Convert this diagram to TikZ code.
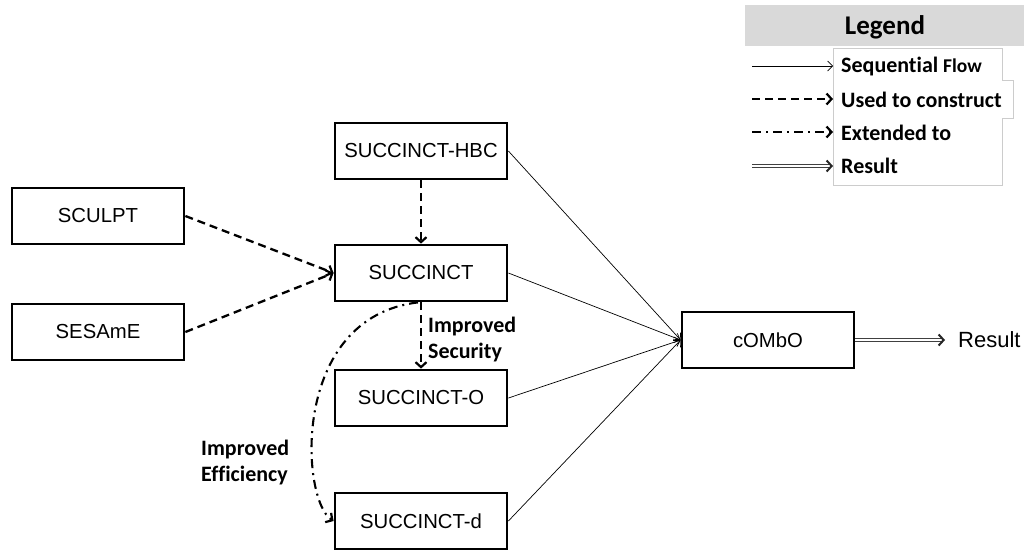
\documentclass[tikz,border=0pt]{standalone}
\usepackage{fontspec}
\setmainfont{Liberation Sans}
\newfontfamily\calib{Carlito}[Ligatures=NoCommon]
\usetikzlibrary{arrows.meta,calc}
\begin{document}
\begin{tikzpicture}[x=1pt,y=-1pt,
  box/.style={draw, line width=2.8pt, minimum width=172pt, minimum height=56pt, inner sep=0pt, font=\fontsize{20.3}{24}\selectfont},
  seq/.style={line width=0.7pt, -{Straight Barb[length=5pt,width=10pt,line width=0.7pt]}},
  used/.style={line width=2.3pt, dash pattern=on 8pt off 5pt, -{Straight Barb[length=5pt,width=11pt,line width=2.2pt]}},
  ext/.style={line width=2.1pt, dash pattern=on 9pt off 5pt on 2pt off 5pt, -{Straight Barb[length=5pt,width=11pt,line width=2.2pt]}},
  resline/.style={draw=black!75, double=white, line width=0.9pt, double distance=1.3pt},
  restip/.style={line width=2pt, black!85, -{Straight Barb[length=5pt,width=11pt,line width=2pt]}},
  lbl/.style={font=\calib\bfseries\fontsize{22}{26}\selectfont, align=left, inner sep=0pt},
  leg/.style={font=\calib\bfseries\fontsize{22}{24}\selectfont, anchor=west, inner sep=0pt},
]
\useasboundingbox (0,0) rectangle (1024,550);
\fill[white] (0,0) rectangle (1024,550);

% boxes
\node[box] (hbc) at (421,151) {SUCCINCT-HBC};
\node[box] (sculpt) at (98,216) {SCULPT};
\node[box] (succ) at (421,273) {SUCCINCT};
\node[box] (sesame) at (98,332) {SESAmE};
\node[box] (succo) at (421,398) {SUCCINCT-O};
\node[box] (succd) at (421,521) {SUCCINCT-d};
\node[box] (combo) at (768,340) {cOMbO};
\node[anchor=west, inner xsep=13pt, inner ysep=0pt, font=\fontsize{22}{24}\selectfont] (res) at (945,340) {Result};

% sequential
\draw[seq] (hbc.east) -- (combo.west);
\draw[seq] (succ.east) -- (combo.west);
\draw[seq] (succo.east) -- (combo.west);
\draw[seq] (succd.east) -- (combo.west);

% used to construct
\draw[used] (sculpt.east) -- (succ.west);
\draw[used] (sesame.east) -- (succ.west);
\draw[used] (hbc.south) -- (succ.north);
\draw[used] (succ.south) -- (succo.north);

% extended
\draw[ext] ([xshift=-3pt]succ.south) .. controls +(-128,15) and +(-33,-21) .. (succd.west);

% labels
\node[lbl, anchor=west] (lsec) at (428,340) {Improved\\Security};
\node[lbl, anchor=west] (leff) at (201,462) {Improved\\Efficiency};

% result
\draw[resline] (combo.east) -- ([xshift=-2pt]res.west);
\draw[restip] ([xshift=-3pt]res.west) -- (res.west);

% legend
\fill[black!15] (745,5) rectangle (1024,46);
\node[font=\calib\bfseries\fontsize{27}{30}\selectfont, inner sep=0pt] (legt) at (885,27) {Legend};
\draw[black!20, line width=0.6pt, fill=white] (833,48) -- (1002,48) -- (1002,80) -- (1013,80) -- (1013,118) -- (1002,118) -- (1002,185) -- (833,185) -- cycle;

\node[leg] (t1) at (841,67) {Sequential {\fontsize{19.5}{22}\selectfont Flow}};
\node[leg] (t2) at (841,100) {Used to construct};
\node[leg] (t3) at (841,133) {Extended to};
\node[leg] (t4) at (841,166) {Result};

\coordinate (a1s) at (752,66); \coordinate (a1e) at (833,66);
\coordinate (a2s) at (752,99); \coordinate (a2e) at (833,99);
\coordinate (a3s) at (752,132); \coordinate (a3e) at (833,132);
\coordinate (a4s) at (752,166); \coordinate (a4e) at (833,166);
\draw[seq] (a1s) -- (a1e);
\draw[used] (a2s) -- (a2e);
\draw[ext] (a3s) -- (a3e);
\draw[resline] (a4s) -- ([xshift=-2pt]a4e);
\draw[restip] ([xshift=-3pt]a4e) -- (a4e);
\end{tikzpicture}
\end{document}
